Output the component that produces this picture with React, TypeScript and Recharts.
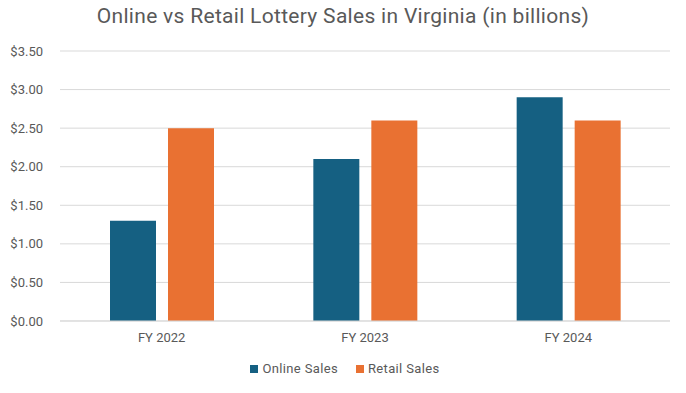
import { BarChart, Bar, XAxis, YAxis, CartesianGrid, Legend } from "recharts";

const years = ["FY 2022", "FY 2023", "FY 2024"];
const onlineSales = [1.3, 2.1, 2.9];
const retailSales = [2.5, 2.6, 2.6];
const yTicks = [0, 0.5, 1, 1.5, 2, 2.5, 3, 3.5];

const seriesNames = ["Online Sales", "Retail Sales"];
const seriesColors = ["#156082", "#E97132"];

const chartData = years.map((year, i) => ({
  year,
  online: onlineSales[i],
  retail: retailSales[i],
}));

const font = "Roboto, 'Open Sans', sans-serif";

function LegendBox() {
  return (
    <div style={{ display: "flex", justifyContent: "center", paddingTop: 10, paddingLeft: 20, gap: 18, fontFamily: font }}>
      {seriesNames.map((name, i) => (
        <div key={name} style={{ display: "flex", alignItems: "center", gap: 4 }}>
          <span style={{ width: 8, height: 8, background: seriesColors[i], display: "inline-block" }} />
          <span style={{ color: "#595959", fontSize: 13, letterSpacing: 0.35 }}>{name}</span>
        </div>
      ))}
    </div>
  );
}

export default function App() {
  return (
    <div style={{ position: "absolute", left: 0, top: 0, width: 686, height: 393, background: "#fff", fontFamily: font }}>
      <div
        style={{
          position: "absolute",
          top: 4,
          left: 0,
          width: 686,
          textAlign: "center",
          fontSize: 21,
          letterSpacing: 0.3,
          color: "#595959",
        }}
      >
        Online vs Retail Lottery Sales in Virginia (in billions)
      </div>
      <BarChart
        width={686}
        height={393}
        data={chartData}
        margin={{ top: 51, right: 16, bottom: 3, left: 0 }}
        barGap={12}
        barSize={46}
      >
        <CartesianGrid vertical={false} stroke="#d9d9d9" />
        <XAxis
          dataKey="year"
          axisLine={{ stroke: "#d9d9d9" }}
          tickLine={false}
          tickSize={0}
          tickMargin={12}
          height={30}
          tick={{ fill: "#595959", fontSize: 13, fontFamily: font }}
        />
        <YAxis
          domain={[0, 3.5]}
          ticks={yTicks}
          width={60}
          axisLine={false}
          tickLine={false}
          tickSize={0}
          tickMargin={17}
          tickFormatter={(v: number) => `$${v.toFixed(2)}`}
          tick={{ fill: "#595959", fontSize: 13, fontFamily: font }}
        />
        <Legend verticalAlign="bottom" height={39} content={() => <LegendBox />} />
        <Bar dataKey="online" name="Online Sales" fill={seriesColors[0]} isAnimationActive={false} />
        <Bar dataKey="retail" name="Retail Sales" fill={seriesColors[1]} isAnimationActive={false} />
      </BarChart>
    </div>
  );
}
